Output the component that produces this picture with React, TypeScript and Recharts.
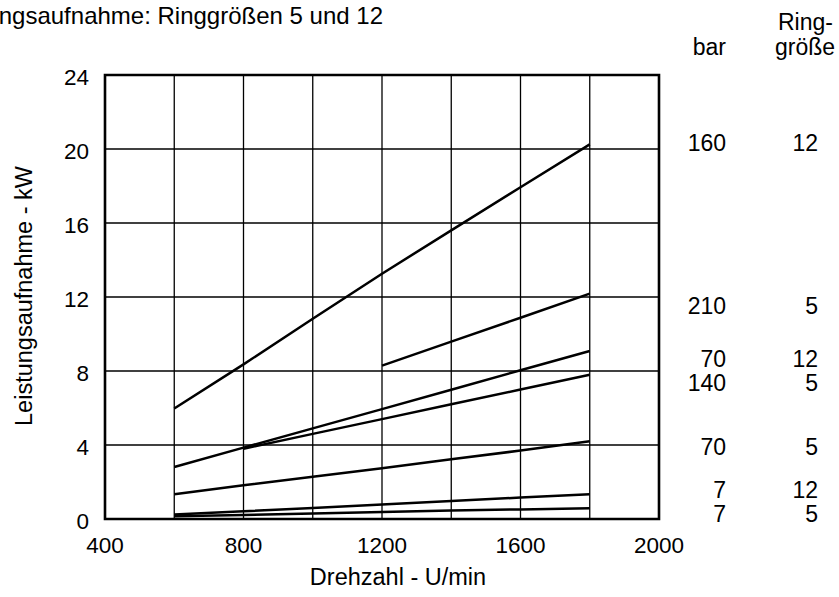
import { LineChart, Line, XAxis, YAxis, CartesianGrid, ReferenceArea } from "recharts";

// Drehzahl (U/min) and Leistungsaufnahme (kW) per pressure / ring size
const rpm = [600, 800, 1000, 1200, 1400, 1600, 1800];
const kw160bar12 = [5.97, 8.36, 10.82, 13.26, 15.6, 17.93, 20.25];
const kw210bar5 = [null, null, null, 8.29, 9.59, 10.88, 12.18];
const kw70bar12 = [2.81, 3.86, 4.9, 5.94, 6.99, 8.04, 9.08];
const kw140bar5 = [null, 3.8, 4.6, 5.4, 6.2, 7.0, 7.8];
const kw70bar5 = [1.34, 1.82, 2.28, 2.74, 3.23, 3.7, 4.2];
const kw7bar12 = [0.24, 0.42, 0.6, 0.79, 0.97, 1.16, 1.34];
const kw7bar5 = [0.15, 0.22, 0.3, 0.38, 0.46, 0.52, 0.58];

const xTicks = [400, 600, 800, 1000, 1200, 1400, 1600, 1800, 2000];
const yTicks = [0, 4, 8, 12, 16, 20, 24];

const seriesKeys = ["k160_12", "k210_5", "k70_12", "k140_5", "k70_5", "k7_12", "k7_5"];
const seriesValues = [kw160bar12, kw210bar5, kw70bar12, kw140bar5, kw70bar5, kw7bar12, kw7bar5];
const barLabels = ["160", "210", "70", "140", "70", "7", "7"];
const ringLabels = ["12", "5", "12", "5", "5", "12", "5"];

const data = rpm.map((r, i) => {
  const row: Record<string, number | null> = { rpm: r };
  seriesKeys.forEach((k, s) => {
    row[k] = seriesValues[s][i];
  });
  return row;
});

// baseline of each row in the legend column on the right
const rowBaseline = [151, 314, 367, 391, 455, 498, 522];

const font = "'Liberation Sans', Arial, Helvetica, sans-serif";

export default function App() {
  return (
    <div style={{ position: "absolute", left: 0, top: 0, width: 839, height: 597, background: "#fff" }}>
      <LineChart
        width={839}
        height={597}
        data={data}
        margin={{ top: 75, right: 180, bottom: 48, left: 45 }}
        style={{ fontFamily: font }}
      >
        <CartesianGrid stroke="#000" strokeWidth={1.3} />
        <XAxis
          dataKey="rpm"
          type="number"
          domain={[400, 2000]}
          ticks={xTicks}
          tickFormatter={(v) => (v % 400 === 0 ? String(v) : "")}
          tickLine={false}
          axisLine={false}
          tickMargin={12}
          height={30}
          tick={{ fill: "#000", fontSize: 22.5 }}
        />
        <YAxis
          type="number"
          domain={[0, 24]}
          ticks={yTicks}
          tickLine={false}
          axisLine={false}
          tickMargin={10}
          width={60}
          tick={{ fill: "#000", fontSize: 22.5, dy: 2 }}
        />
        <ReferenceArea x1={400} x2={2000} y1={0} y2={24} fill="none" stroke="#000" strokeWidth={2.6} />
        {seriesKeys.map((k) => (
          <Line
            key={k}
            dataKey={k}
            type="linear"
            stroke="#000"
            strokeWidth={2.5}
            dot={false}
            activeDot={false}
            isAnimationActive={false}
          />
        ))}
      </LineChart>
      <svg
        width={839}
        height={597}
        style={{ position: "absolute", left: 0, top: 0, pointerEvents: "none", fontFamily: font }}
      >
        <text x={383} y={24} textAnchor="end" fontSize={24} fill="#000">
          Leistungsaufnahme: Ringgrößen 5 und 12
        </text>
        <text x={398} y={585} textAnchor="middle" fontSize={23.5} fill="#000">
          Drehzahl - U/min
        </text>
        <text
          x={0}
          y={0}
          transform="translate(32 296) rotate(-90)"
          textAnchor="middle"
          fontSize={23.5}
          fill="#000"
        >
          Leistungsaufnahme - kW
        </text>
        <text x={726} y={55} textAnchor="end" fontSize={23} fill="#000">bar</text>
        <text x={778} y={30} fontSize={23} fill="#000">Ring-</text>
        <text x={775} y={55} fontSize={23} fill="#000">größe</text>
        {barLabels.map((b, i) => (
          <g key={i}>
            <text x={726} y={rowBaseline[i]} textAnchor="end" fontSize={23} fill="#000">{b}</text>
            <text x={818} y={rowBaseline[i]} textAnchor="end" fontSize={23} fill="#000">{ringLabels[i]}</text>
          </g>
        ))}
      </svg>
    </div>
  );
}
